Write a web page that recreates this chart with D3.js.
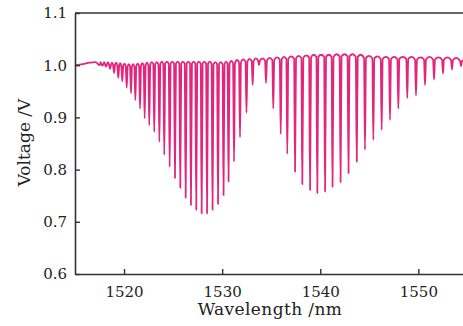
<!DOCTYPE html>
<html>
<head>
<meta charset="utf-8">
<script src="https://cdn.jsdelivr.net/npm/d3@7"></script>
<style>
  html, body { margin: 0; padding: 0; background: #fff; }
  svg { display: block; }
</style>
</head>
<body>
<script>
// transmission dips: centre wavelength (nm) and minimum voltage (V)
const dipWl = [
  1517.45, 1517.78, 1518.16, 1518.57, 1518.98, 1519.41, 1519.82, 1520.27, 1520.71, 1521.15,
  1521.63, 1522.10, 1522.57, 1523.08, 1523.60, 1524.10, 1524.65, 1525.19, 1525.73, 1526.28,
  1526.82, 1527.36, 1527.91, 1528.46, 1529.02, 1529.58, 1530.14, 1530.65, 1531.21, 1531.82,
  1532.48, 1533.11, 1533.76, 1534.47, 1535.21, 1535.97, 1536.64, 1537.43, 1538.17, 1538.96,
  1539.70, 1540.49, 1541.25, 1542.07, 1542.88, 1543.72, 1544.56, 1545.41, 1546.26, 1547.11,
  1547.96, 1548.87, 1549.76, 1550.68, 1551.60, 1552.51, 1553.43, 1554.35
];
const dipMin = [
  1.000, 0.999, 0.997, 0.993, 0.985, 0.976, 0.969, 0.957, 0.946, 0.933,
  0.917, 0.898, 0.885, 0.872, 0.853, 0.828, 0.805, 0.784, 0.765, 0.746,
  0.732, 0.723, 0.716, 0.716, 0.723, 0.734, 0.751, 0.777, 0.815, 0.862,
  0.909, 0.962, 1.000, 0.966, 0.917, 0.868, 0.830, 0.796, 0.772, 0.761,
  0.755, 0.758, 0.767, 0.776, 0.793, 0.815, 0.838, 0.857, 0.876, 0.895,
  0.917, 0.937, 0.942, 0.962, 0.973, 0.984, 0.992, 0.998
];
// crest level just after each dip (last one = level at the right edge)
const crestV = [
  1.006, 1.006, 1.006, 1.005, 1.005, 1.004, 1.003, 1.002, 1.002, 1.003,
  1.004, 1.005, 1.006, 1.006, 1.007, 1.007, 1.007, 1.007, 1.007, 1.007,
  1.007, 1.007, 1.007, 1.007, 1.006, 1.006, 1.007, 1.008, 1.010, 1.011,
  1.012, 1.013, 1.013, 1.014, 1.015, 1.016, 1.017, 1.018, 1.019, 1.020,
  1.020, 1.020, 1.021, 1.021, 1.021, 1.020, 1.018, 1.017, 1.016, 1.016,
  1.016, 1.016, 1.015, 1.016, 1.015, 1.015, 1.014, 1.012
];
// smooth start of the trace before the first dip
const leadWl = [1515.0, 1515.8, 1516.5, 1517.1];
const leadV = [1.000, 1.002, 1.005, 1.006];

const xTicks = [1520, 1530, 1540, 1550];
const yTicks = [0.6, 0.7, 0.8, 0.9, 1.0, 1.1];

const width = 463, height = 326;
const margin = { top: 13, right: 0, bottom: 52, left: 75 };
const plotBottom = height - margin.bottom;

const svg = d3.select('body').append('svg')
  .attr('width', width)
  .attr('height', height);

const x = d3.scaleLinear()
  .domain([1515, 1555])
  .range([margin.left, margin.left + 40 * 9.81]);

const y = d3.scaleLinear()
  .domain([0.6, 1.1])
  .range([plotBottom, margin.top]);

svg.append('clipPath').attr('id', 'plot-clip')
  .append('rect')
  .attr('x', margin.left)
  .attr('y', margin.top)
  .attr('width', width - margin.left)
  .attr('height', plotBottom - margin.top);

// build the trace: shoulders either side of each narrow dip, crest between dips
const halfW = 0.1;
const pts = leadWl.map((w, i) => [w, leadV[i]]);
dipWl.forEach((w, i) => {
  const left = i === 0 ? leadV[leadV.length - 1] : crestV[i - 1];
  const right = crestV[i];
  const shoulder = Math.min(left, right) - 0.004;
  pts.push([w - halfW, Math.max(shoulder, dipMin[i])]);
  pts.push([w, dipMin[i]]);
  pts.push([w + halfW, Math.max(shoulder, dipMin[i])]);
  const next = i < dipWl.length - 1 ? (w + dipWl[i + 1]) / 2 : 1555;
  pts.push([next, right]);
});

const line = d3.line()
  .x(d => x(d[0]))
  .y(d => y(d[1]))
  .curve(d3.curveMonotoneX);

svg.append('path')
  .datum(pts)
  .attr('clip-path', 'url(#plot-clip)')
  .attr('fill', 'none')
  .attr('stroke', '#e2267c')
  .attr('stroke-width', 1.8)
  .attr('stroke-linejoin', 'round')
  .attr('d', line);

// axes
const axisColor = '#333';
const font = "'DejaVu Serif', serif";

const xAxis = svg.append('g')
  .attr('transform', `translate(0,${plotBottom})`)
  .call(d3.axisBottom(x).tickValues(xTicks).tickFormat(d3.format('d'))
    .tickSizeInner(-5).tickSizeOuter(0).tickPadding(12));

const yAxis = svg.append('g')
  .attr('transform', `translate(${margin.left},0)`)
  .call(d3.axisLeft(y).tickValues(yTicks).tickFormat(d3.format('.1f'))
    .tickSizeInner(-5).tickSizeOuter(0).tickPadding(8));

[xAxis, yAxis].forEach(g => {
  g.select('.domain').attr('stroke', axisColor).attr('stroke-width', 1.6);
  g.selectAll('.tick line').attr('stroke', axisColor).attr('stroke-width', 1.4);
  g.selectAll('.tick text')
    .attr('fill', '#222')
    .style('font-family', font)
    .style('font-size', '15px');
});

// top frame line
svg.append('line')
  .attr('x1', margin.left).attr('x2', width)
  .attr('y1', margin.top).attr('y2', margin.top)
  .attr('stroke', axisColor)
  .attr('stroke-width', 1.6);

svg.append('text')
  .attr('x', 270)
  .attr('y', 315)
  .attr('text-anchor', 'middle')
  .attr('fill', '#222')
  .style('font-family', font)
  .style('font-size', '17px')
  .style('letter-spacing', '0.4px')
  .text('Wavelength /nm');

svg.append('text')
  .attr('transform', `translate(30,${(margin.top + plotBottom) / 2 - 1}) rotate(-90)`)
  .attr('text-anchor', 'middle')
  .attr('fill', '#222')
  .style('font-family', font)
  .style('font-size', '17px')
  .text('Voltage /V');
</script>
</body>
</html>
